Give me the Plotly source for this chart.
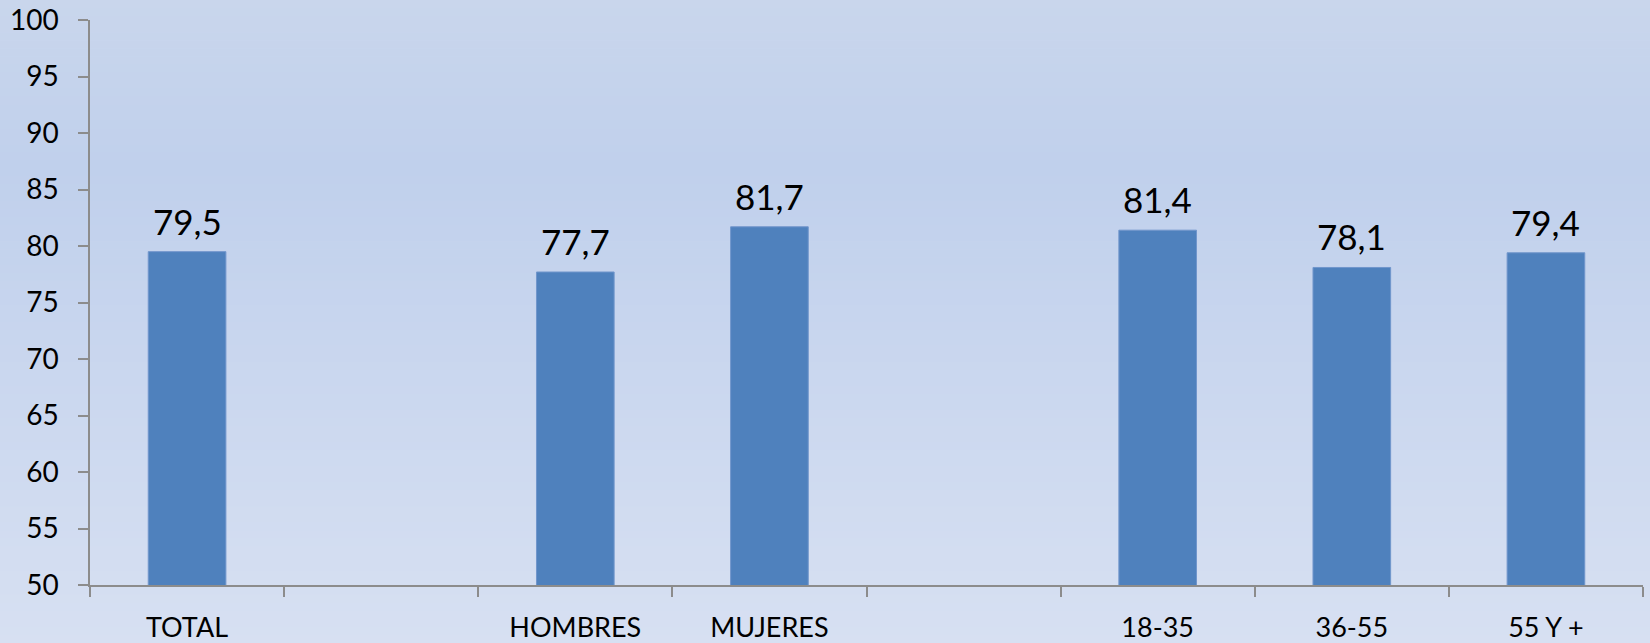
import plotly.graph_objects as go

categories = ["TOTAL", " ", "HOMBRES", "MUJERES", "  ", "18-35", "36-55", "55 Y +"]
values = [79.5, None, 77.7, 81.7, None, 81.4, 78.1, 79.4]
y_ticks = [50, 55, 60, 65, 70, 75, 80, 85, 90, 95, 100]

W, H = 1650, 643
ML, MR, MT, MB = 90, 7, 20, 58
plot_h = H - MT - MB

fig = go.Figure()
fig.add_trace(go.Bar(
    x=categories, y=values,
    marker=dict(color="#4f81bd", line=dict(color="#7196cc", width=1)),
    width=0.4,
    hoverinfo="skip",
))

# data labels
for c, v in zip(categories, values):
    if v is None:
        continue
    fig.add_annotation(
        x=c, y=v, text=f"{v:.1f}".replace(".", ","), showarrow=False,
        yanchor="bottom", yshift=8,
        font=dict(family="Lato", size=35, color="#000000"),
    )

# background gradient
stops = [(0, (201, 214, 236)), (170, (192, 208, 236)), (643, (215, 224, 242))]
def col_at(py):
    for (p0, c0), (p1, c1) in zip(stops[:-1], stops[1:]):
        if p0 <= py <= p1:
            t = (py - p0) / (p1 - p0)
            return tuple(round(a + (b - a) * t) for a, b in zip(c0, c1))
    return stops[-1][1]

n = 80
step = H / n
for i in range(n):
    py0 = i * step
    py1 = (i + 1) * step + 0.6
    r, g, b = col_at(py0 + step / 2)
    fig.add_shape(
        type="rect", xref="paper", yref="paper",
        x0=-ML / (W - ML - MR) - 0.01, x1=1 + MR / (W - ML - MR) + 0.01,
        y0=(H - MB - py1) / plot_h, y1=(H - MB - py0) / plot_h,
        fillcolor=f"rgb({r},{g},{b})", line=dict(width=0), layer="below",
    )

fig.update_layout(
    width=W, height=H,
    margin=dict(l=ML, r=MR, t=MT, b=MB, autoexpand=False),
    paper_bgcolor="rgb(205,216,238)", plot_bgcolor="rgba(0,0,0,0)",
    showlegend=False, bargap=0.6,
    font=dict(family="Lato", color="#000000"),
)
fig.update_xaxes(
    type="category", categoryorder="array", categoryarray=categories,
    showline=True, linecolor="#8c8c8c", linewidth=1.5,
    ticks="outside", ticklen=10, tickcolor="#8c8c8c", tickwidth=1.5,
    tickson="boundaries", showgrid=False, automargin=False,
    tickfont=dict(family="Lato", size=27, color="#000000"),
    ticklabelstandoff=18,
)
fig.update_yaxes(
    range=[50, 100], tickvals=y_ticks, ticktext=[str(t) for t in y_ticks],
    showline=True, linecolor="#8c8c8c", linewidth=1.5,
    ticks="outside", ticklen=10, tickcolor="#8c8c8c", tickwidth=1.5,
    showgrid=False, zeroline=False, automargin=False,
    tickfont=dict(family="Lato", size=28, color="#000000"),
    ticklabelstandoff=14,
)

fig.write_html(
    "out.html",
    config={"displayModeBar": False},
    post_script="document.body.style.margin='0';document.body.style.overflow='hidden';",
)
